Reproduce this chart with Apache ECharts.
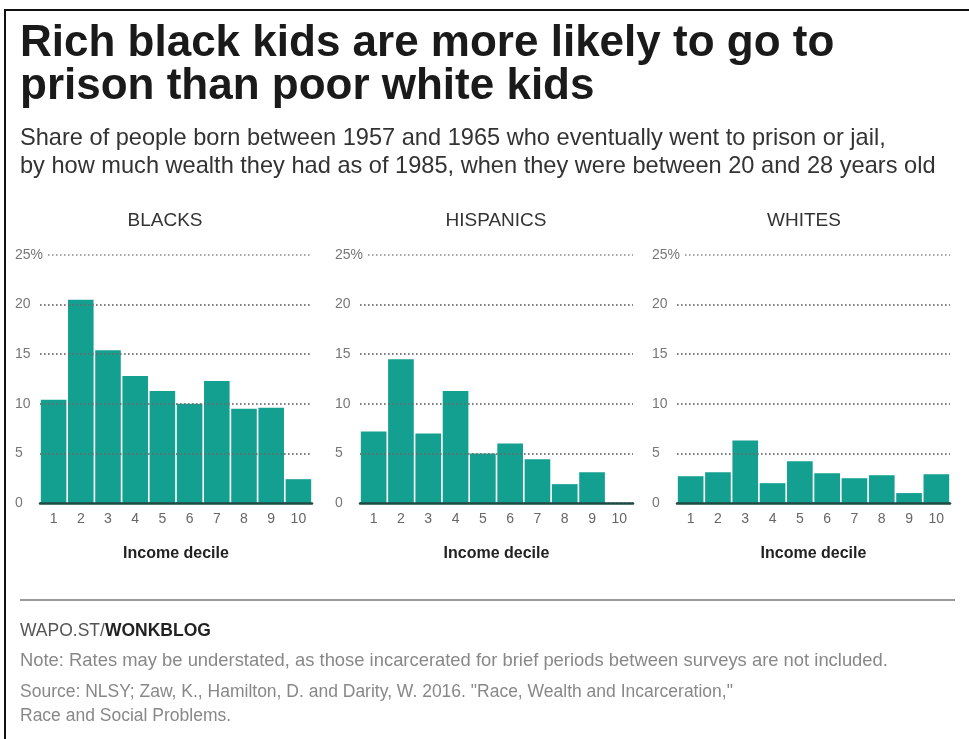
<!DOCTYPE html>
<html>
<head>
<meta charset="utf-8">
<script src="https://cdn.jsdelivr.net/npm/echarts@6/dist/echarts.min.js"></script>
<style>
html,body{margin:0;padding:0;background:#fff;}
#chart{width:969px;height:739px;}
</style>
</head>
<body>
<div id="chart"></div>
<script>
const deciles = ['1','2','3','4','5','6','7','8','9','10'];
const blacks = [10.4, 20.5, 15.4, 12.8, 11.3, 10.0, 12.3, 9.5, 9.6, 2.4];
const hispanics = [7.2, 14.5, 7.0, 11.3, 5.0, 6.0, 4.4, 1.9, 3.1, 0];
const whites = [2.7, 3.1, 6.3, 2.0, 4.2, 3.0, 2.5, 2.8, 1.0, 2.9];
const panelTitles = ['BLACKS', 'HISPANICS', 'WHITES'];
const yTicks = [0, 5, 10, 15, 20, 25];
const titleLines = ['Rich black kids are more likely to go to', 'prison than poor white kids'];
const subLines = ['Share of people born between 1957 and 1965 who eventually went to prison or jail,', 'by how much wealth they had as of 1985, when they were between 20 and 28 years old'];
const noteText = 'Note: Rates may be understated, as those incarcerated for brief periods between surveys are not included.';
const sourceLines = ['Source: NLSY; Zaw, K., Hamilton, D. and Darity, W. 2016. "Race, Wealth and Incarceration,"', 'Race and Social Problems.'];

const FAM = '"Liberation Sans", Arial, sans-serif';
const TEAL = '#14a090';
const DOT = {color: '#6a6a6a', type: [1.5, 2.5], width: 1.5, opacity: 0.8};

const ctx = document.createElement('canvas').getContext('2d');
function fit(text, weight, target) {
  ctx.font = weight + ' 100px ' + FAM;
  const w = ctx.measureText(text).width;
  return Math.round(100 * target / w * 10) / 10;
}
const titleSize = Math.min(fit(titleLines[0], 'bold', 838), 44);
const subSize = fit(subLines[1], 'normal', 917);
const noteSize = fit(noteText, 'normal', 867);
const footSize = fit(sourceLines[0], 'normal', 714);

const chart = echarts.init(document.getElementById('chart'));

const gridsPos = [
  {left: 40, width: 272},
  {left: 360, width: 273},
  {left: 677, width: 273}
];
const titleCenters = [165, 496, 804];
const seriesData = [blacks, hispanics, whites];

const grids = gridsPos.map(g => ({left: g.left, width: g.width, top: 255, height: 248}));
const xAxes = gridsPos.map((g, i) => ({
  type: 'category', gridIndex: i, data: deciles, z: 6,
  axisTick: {show: false},
  axisLine: {lineStyle: {color: '#1d4a45', width: 2.5}},
  axisLabel: {color: '#666', fontSize: 14, fontFamily: FAM, margin: 9},
  name: 'Income decile', nameLocation: 'middle', nameGap: 43,
  nameTextStyle: {color: '#222', fontSize: 16, fontWeight: 'bold', fontFamily: FAM}
}));
const yAxes = gridsPos.map((g, i) => ({
  type: 'value', gridIndex: i, min: 0, max: 25, interval: 5, z: 5,
  axisLine: {show: false}, axisTick: {show: false},
  splitLine: {lineStyle: DOT},
  axisLabel: {
    color: '#777', fontSize: 14, fontFamily: FAM, align: 'left', margin: 25,
    backgroundColor: '#fff', padding: [0, 3, 0, 0],
    formatter: v => yTicks.includes(v) ? (v === 25 ? '25%' : String(v)) : ''
  }
}));
const series = seriesData.map((d, i) => ({
  type: 'bar', xAxisIndex: i, yAxisIndex: i, data: d, z: 2,
  barCategoryGap: '6%', itemStyle: {color: TEAL}, silent: true,
  markLine: {
    silent: true, symbol: 'none', z: 4, label: {show: false},
    lineStyle: DOT, emphasis: {disabled: true},
    data: yTicks.filter(v => v > 0 && v < 25).map(v => ({yAxis: v}))
  }
}));

const graphic = [
  {type: 'rect', shape: {x: 5, y: 10, width: 980, height: 760}, style: {fill: 'none', stroke: '#111', lineWidth: 2}, silent: true},
  {type: 'text', left: 20, top: 22, style: {text: titleLines.join('\n'), font: 'bold ' + titleSize + 'px ' + FAM, fill: '#1a1a1a', lineHeight: 43}},
  {type: 'text', left: 20, top: 124, style: {text: subLines.join('\n'), font: subSize + 'px ' + FAM, fill: '#333', lineHeight: 28}},
  ...panelTitles.map((t, i) => ({type: 'text', x: titleCenters[i], y: 221, style: {text: t, font: '19px ' + FAM, fill: '#333', align: 'center', verticalAlign: 'middle'}})),
  {type: 'rect', shape: {x: 20, y: 599, width: 935, height: 2}, style: {fill: '#999'}, silent: true},
  {type: 'text', left: 20, top: 622, style: {text: '{a|WAPO.ST/}{b|WONKBLOG}', rich: {a: {font: footSize + 'px ' + FAM, fill: '#555'}, b: {font: 'bold ' + footSize + 'px ' + FAM, fill: '#222'}}}},
  {type: 'text', left: 20, top: 652, style: {text: noteText, font: noteSize + 'px ' + FAM, fill: '#888'}},
  {type: 'text', left: 20, top: 680, style: {text: sourceLines.join('\n'), font: footSize + 'px ' + FAM, fill: '#888', lineHeight: 24}}
];

chart.setOption({
  animation: false,
  backgroundColor: '#fff',
  grid: grids, xAxis: xAxes, yAxis: yAxes, series: series, graphic: graphic
});
</script>
</body>
</html>
